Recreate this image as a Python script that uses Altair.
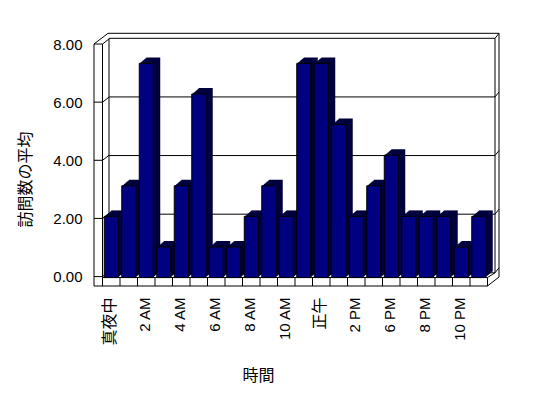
import json
import altair as alt
import pandas as pd

# ---- data ----
hours = ["真夜中", "1 AM", "2 AM", "3 AM", "4 AM", "5 AM", "6 AM", "7 AM", "8 AM",
         "9 AM", "10 AM", "11 AM", "正午", "1 PM", "2 PM", "4 PM", "6 PM", "7 PM",
         "8 PM", "9 PM", "10 PM", "11 PM"]
visits = [2, 3, 7, 1, 3, 6, 1, 1, 2, 3, 2, 7, 7, 5, 2, 3, 4, 2, 2, 2, 1, 2]
y_ticks = [0, 2, 4, 6, 8]

# ---- frame geometry (plot-area pixels) ----
W, H = 405, 253
FRONT_X, WALL_X, BACK_X = 0, 8.5, 15
BAND0, BAND1 = 8.5, 393.5
RIGHT_IN, RIGHT_OUT = 401, 405
FLOOR_TOP, FLOOR_BOT = 244.5, 253
TOP_OUT, TOP_FRONT = 0.3, 11
BACK_TOP, BACK_BOT = 5.3, 239.8

df = pd.DataFrame({"hour": hours, "visits": visits})
lv = pd.DataFrame({"level": y_ticks})
one = pd.DataFrame({"k": [0]})

LATIN = "Liberation Sans"
CJK = "Noto Sans CJK JP"

label_list = json.dumps(hours, ensure_ascii=False)
x_axis = alt.Axis(
    orient="bottom", title="時間", labelAngle=270,
    labelExpr=f"indexof({label_list}, datum.value) % 2 == 0 ? datum.value : ''",
    domain=False, ticks=False, grid=False, labelPadding=11, labelOffset=-1,
    labelFont=f"{LATIN}, {CJK}", labelColor="black",
    labelFontSize={"condition": {"test": "datum.value == '真夜中' || datum.value == '正午'",
                                 "value": 16}, "value": 15},
    titleFont=CJK, titleFontSize=16, titleFontWeight="normal", titleColor="black",
    titleX=164, titleY=89, titleAlign="center", titleBaseline="middle",
)
x_scale = alt.Scale(domain=hours, range=[BAND0, BAND1], paddingInner=0, paddingOuter=0)


def X(**kw):
    return alt.X("hour:N", scale=x_scale, axis=x_axis, **kw)


front_scale = alt.Scale(domain=[0, 8], range=[243.6, TOP_FRONT])
back_scale = alt.Scale(domain=[0, 8], range=[BACK_BOT, BACK_TOP])
bar_scale = alt.Scale(domain=[0, 8], range=[244.6, -0.2])

y_axis = alt.Axis(
    orient="left", values=y_ticks, format=".2f", domain=False, ticks=False, grid=False,
    labelPadding=12, labelFont=LATIN, labelFontSize=15, labelColor="black",
    title="訪問数の平均", titleFont=CJK, titleFontSize=16, titleFontWeight="normal",
    titleColor="black", titleAngle=270, titleX=-69, titleY=146,
    titleAlign="center", titleBaseline="middle",
)

layers = []

# static frame segments
segs = [
    (FRONT_X, TOP_FRONT, FRONT_X, FLOOR_BOT),
    (FRONT_X, TOP_FRONT, BACK_X - 1, TOP_OUT),
    (WALL_X, TOP_FRONT, WALL_X, FLOOR_TOP),
    (BACK_X, BACK_TOP, BACK_X, BACK_BOT),
    (BACK_X - 1, TOP_OUT, RIGHT_OUT, TOP_OUT),
    (RIGHT_OUT, TOP_OUT, RIGHT_OUT, 244),
    (RIGHT_IN, BACK_TOP, RIGHT_IN, BACK_BOT),
    (FRONT_X, FLOOR_BOT, BAND1, FLOOR_BOT),
    (WALL_X, FLOOR_TOP, BAND1, FLOOR_TOP),
    (BAND1, FLOOR_TOP, BAND1, FLOOR_BOT),
    (BAND1, FLOOR_BOT, RIGHT_OUT, 244),
    (BAND1, FLOOR_TOP, RIGHT_IN, BACK_BOT),
]
for x1, y1, x2, y2 in segs:
    layers.append(
        alt.Chart(one).mark_rule(color="black", strokeWidth=1).encode(
            x=alt.value(x1), y=alt.value(y1), x2=alt.value(x2), y2=alt.value(y2)
        )
    )

# back-wall gridlines
layers.append(
    alt.Chart(lv).mark_rule(color="black", strokeWidth=1).encode(
        x=alt.value(BACK_X), x2=alt.value(RIGHT_IN),
        y=alt.Y("level:Q", scale=back_scale, axis=None),
    )
)
# right-edge diagonals
layers.append(
    alt.Chart(lv).mark_rule(color="black", strokeWidth=1, y2Offset=-5).encode(
        x=alt.value(RIGHT_IN), x2=alt.value(RIGHT_OUT),
        y=alt.Y("level:Q", scale=back_scale, axis=None), y2="level:Q",
    )
)
# front ticks on the side wall (carries the y axis)
layers.append(
    alt.Chart(lv).mark_rule(color="black", strokeWidth=1).encode(
        x=alt.value(FRONT_X), x2=alt.value(WALL_X),
        y=alt.Y("level:Q", scale=front_scale, axis=y_axis),
    )
)
# side wall diagonals
layers.append(
    alt.Chart(lv).mark_rule(color="black", strokeWidth=1, y2Offset=-5).encode(
        x=alt.value(WALL_X), x2=alt.value(BACK_X),
        y=alt.Y("level:Q", scale=front_scale, axis=None), y2="level:Q",
    )
)
# floor ticks between categories
layers.append(
    alt.Chart(df).mark_rule(color="black", strokeWidth=1).encode(
        x=X(bandPosition=0), y=alt.value(FLOOR_TOP), y2=alt.value(FLOOR_BOT),
    )
)
# 3D depth of bars
for i in range(1, 8):
    dy = -i * 6 / 7
    layers.append(
        alt.Chart(df).mark_bar(size=14, color="#00003c", xOffset=i, yOffset=dy, y2Offset=dy).encode(
            x=X(), y=alt.Y("visits:Q", scale=bar_scale, axis=None),
        )
    )
# front faces
layers.append(
    alt.Chart(df).mark_bar(size=14, fill="#000080", stroke="black", strokeWidth=1).encode(
        x=X(), y=alt.Y("visits:Q", scale=bar_scale, axis=None),
    )
)

chart = (
    alt.layer(*layers)
    .resolve_scale(y="independent")
    .properties(
        width=W, height=H,
        padding={"left": 86, "top": 25, "right": 41, "bottom": 104},
        autosize=alt.AutoSizeParams(type="none"),
    )
    .configure_view(stroke=None)
)

chart.save("out.html", embed_options={"renderer": "svg", "actions": False})
